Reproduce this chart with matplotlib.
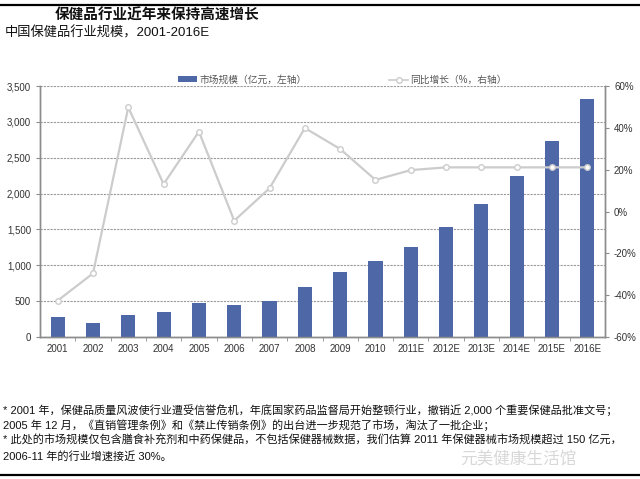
import matplotlib
matplotlib.use("Agg")
import matplotlib.pyplot as plt
from matplotlib.lines import Line2D
from matplotlib.patches import Patch
from matplotlib.ticker import FuncFormatter, FixedLocator

plt.rcParams['font.family'] = ['Liberation Sans', 'Noto Sans CJK SC', 'DejaVu Sans']

# data
years = ["2001", "2002", "2003", "2004", "2005", "2006", "2007", "2008",
         "2009", "2010", "2011E", "2012E", "2013E", "2014E", "2015E", "2016E"]
market_size = [285, 200, 300, 350, 470, 450, 500, 700,
               910, 1055, 1260, 1530, 1860, 2250, 2730, 3320]
growth_pct = [-42.6, -29.6, 49.8, 13.1, 38.2, -4.4, 11.1, 39.9,
              29.9, 15.1, 19.8, 21.1, 21.1, 21.1, 21.1, 21.1]

title = "保健品行业近年来保持高速增长"
subtitle = "中国保健品行业规模，2001-2016E"
bar_label = "市场规模（亿元，左轴）"
line_label = "同比增长（%，右轴）"
notes = [
    "* 2001 年，保健品质量风波使行业遭受信誉危机，年底国家药品监督局开始整顿行业，撤销近 2,000 个重要保健品批准文号；",
    "2005 年 12 月，《直销管理条例》和《禁止传销条例》的出台进一步规范了市场，淘汰了一批企业；",
    "* 此处的市场规模仅包含膳食补充剂和中药保健品，不包括保健器械数据，我们估算 2011 年保健器械市场规模超过 150 亿元，",
    "2006-11 年的行业增速接近 30%。",
]

bar_color = "#4e67a6"
line_color = "#cccccc"
axis_color = "#8c8c8c"
text_color = "#333333"

fig = plt.figure(figsize=(6.4, 4.79), dpi=100)
ax = fig.add_axes([40 / 640, 1 - 337 / 479, 565 / 640, 251 / 479])
ax2 = ax.twinx()

x = list(range(len(years)))
ax.bar(x, market_size, width=0.4, color=bar_color, zorder=3)
ax.set_xlim(-0.5, len(years) - 0.5)
ax.set_ylim(0, 3500)
ax.set_yticks(range(0, 3501, 500))
ax.yaxis.set_major_formatter(FuncFormatter(lambda v, p: f"{int(v):,}"))
ax.grid(axis="y", color="#9a9a9a", linestyle=(0, (2, 1)), linewidth=0.8, zorder=0)

ax.set_xticks(x)
ax.set_xticklabels(years)
ax.tick_params(axis="x", which="major", length=0, labelsize=7, colors=text_color, pad=5)
ax.xaxis.set_minor_locator(FixedLocator([i + 0.5 for i in range(len(years) - 1)]))
ax.tick_params(axis="x", which="minor", length=3, color=axis_color, direction="out")
ax.tick_params(axis="y", length=3, color=axis_color, labelsize=7, labelcolor=text_color)

ax2.plot(x, growth_pct, color=line_color, linewidth=1.6, marker="o", markersize=4,
         markerfacecolor="white", markeredgecolor=line_color, markeredgewidth=1.0, zorder=4)
ax2.set_ylim(-60, 60)
ax2.set_yticks(range(-60, 61, 20))
ax2.yaxis.set_major_formatter(FuncFormatter(lambda v, p: f"{int(v)}%"))
ax2.tick_params(axis="y", length=3, color=axis_color, labelsize=7, labelcolor=text_color)

for a in (ax, ax2):
    a.spines["top"].set_visible(False)
    for s in ("left", "right", "bottom"):
        a.spines[s].set_color(axis_color)
        a.spines[s].set_linewidth(1.0)

handles = [Patch(facecolor=bar_color, edgecolor="none"),
           Line2D([], [], color=line_color, linewidth=1.2, marker="o", markersize=4,
                  markerfacecolor="white", markeredgecolor=line_color)]
ax.legend(handles, [bar_label, line_label], ncol=2, frameon=False,
          loc="lower center", bbox_to_anchor=(0.535, 0.99), fontsize=7,
          labelcolor="#555555", columnspacing=8.5, handlelength=2.0,
          handleheight=0.5, handletextpad=0.2, borderaxespad=0)

# header, top and bottom rules
fig.add_artist(Line2D([0, 1], [1 - 4.5 / 479] * 2, color="black", linewidth=1.6))
fig.add_artist(Line2D([0, 1], [1 - 475 / 479] * 2, color="black", linewidth=1.6))
fig.text(55 / 640, 1 - 16 / 479, title, fontsize=10.5, fontweight="bold",
         color="#111111", va="center", ha="left")
fig.text(5 / 640, 1 - 33 / 479, subtitle, fontsize=9.5, color="#111111",
         va="center", ha="left")

note_y = [410, 425, 440, 456]
for line, yy in zip(notes, note_y):
    fig.text(3 / 640, 1 - yy / 479, line, fontsize=8.0, color="#111111",
             va="center", ha="left")

# faded watermark, kept just under the third note line
fig.text(460 / 640, 1 - 459 / 479, "元美健康生活馆", fontsize=12, color="#d4d4d4",
         va="center", ha="left", alpha=0.9)

fig.savefig("out.png", dpi=100)
